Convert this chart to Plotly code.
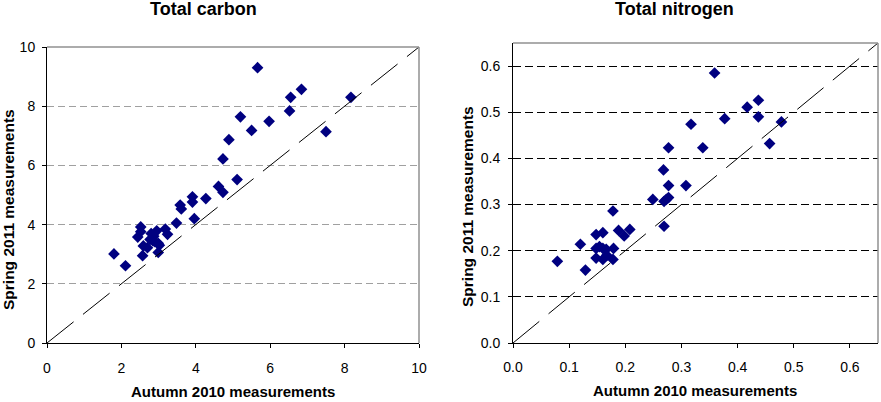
import plotly.graph_objects as go

# Total carbon (left)
carbon_autumn = [5.66, 6.84, 6.55, 8.17, 6.52, 5.20, 5.97, 5.50, 7.50, 4.89, 4.73, 5.11, 4.61, 4.73,
                 4.27, 3.91, 3.91, 3.58, 3.61, 3.48, 3.96, 3.18, 3.24, 2.52, 2.52, 2.44, 2.95, 2.80,
                 2.87, 2.77, 2.90, 2.99, 2.59, 2.70, 2.99, 2.57, 1.80, 2.11, 2.85, 3.02]
carbon_spring = [9.30, 8.57, 8.30, 8.30, 7.84, 7.64, 7.49, 7.18, 7.14, 6.87, 6.22, 5.52, 5.29, 5.09,
                 4.88, 4.94, 4.76, 4.66, 4.53, 4.05, 4.20, 3.85, 3.67, 3.92, 3.76, 3.58, 3.79, 3.70,
                 3.61, 3.50, 3.42, 3.37, 3.28, 3.22, 3.06, 2.95, 3.01, 2.61, 3.45, 3.30]

# Total nitrogen (right)
nitrogen_autumn = [0.359, 0.437, 0.417, 0.437, 0.377, 0.478, 0.317, 0.457, 0.277, 0.338, 0.268, 0.277,
                   0.308, 0.249, 0.269, 0.273, 0.277, 0.269, 0.178, 0.188, 0.208, 0.198, 0.148, 0.160,
                   0.120, 0.148, 0.154, 0.160, 0.166, 0.179, 0.148, 0.160, 0.167, 0.178, 0.079, 0.129]
nitrogen_spring = [0.585, 0.526, 0.511, 0.490, 0.486, 0.479, 0.474, 0.432, 0.423, 0.423, 0.375, 0.341,
                   0.341, 0.311, 0.307, 0.311, 0.315, 0.253, 0.286, 0.244, 0.246, 0.232, 0.235, 0.239,
                   0.214, 0.205, 0.209, 0.205, 0.203, 0.205, 0.184, 0.181, 0.190, 0.181, 0.177, 0.158]

carbon_ticks = [0, 2, 4, 6, 8, 10]
nitrogen_ticks = [0.0, 0.1, 0.2, 0.3, 0.4, 0.5, 0.6]
carbon_max = 10
nitrogen_max = 0.65

W, H = 881, 402
FONT = "Liberation Sans, Arial, sans-serif"
NAVY = "#000080"

fig = go.Figure()

fig.add_trace(go.Scatter(x=carbon_autumn, y=carbon_spring, mode="markers",
                         marker=dict(symbol="diamond", size=9, color=NAVY),
                         xaxis="x", yaxis="y", showlegend=False))
fig.add_trace(go.Scatter(x=nitrogen_autumn, y=nitrogen_spring, mode="markers",
                         marker=dict(symbol="diamond", size=9, color=NAVY),
                         xaxis="x2", yaxis="y2", showlegend=False))

# 1:1 lines
fig.add_trace(go.Scatter(x=[0, carbon_max], y=[0, carbon_max], mode="lines",
                         line=dict(color="black", width=1, dash="34px,12px"),
                         xaxis="x", yaxis="y", showlegend=False, hoverinfo="skip"))
fig.add_trace(go.Scatter(x=[0, nitrogen_max], y=[0, nitrogen_max], mode="lines",
                         line=dict(color="black", width=1, dash="34px,12px"),
                         xaxis="x2", yaxis="y2", showlegend=False, hoverinfo="skip"))

ax_common = dict(showline=True, linecolor="black", linewidth=1, ticks="outside", ticklen=4,
                 tickcolor="black", tickfont=dict(family=FONT, size=14, color="black"),
                 zeroline=False, automargin=False)

fig.update_layout(
    width=W, height=H, margin=dict(l=0, r=0, t=0, b=0, pad=0, autoexpand=False),
    paper_bgcolor="white", plot_bgcolor="white",
    xaxis=dict(domain=[47 / W, 419 / W], range=[0, carbon_max], tickvals=carbon_ticks,
               showgrid=False, anchor="y", ticklabelstandoff=8, **ax_common),
    yaxis=dict(domain=[1 - 343 / H, 1 - 47 / H], range=[0, carbon_max], tickvals=carbon_ticks,
               showgrid=True, gridcolor="#a0a0a0", griddash="7px,4px", gridwidth=1,
               anchor="x", ticklabelstandoff=4, **ax_common),
    xaxis2=dict(domain=[513 / W, 878 / W], range=[0, nitrogen_max], tickvals=nitrogen_ticks,
                tickformat=".1f", showgrid=False, anchor="y2", ticklabelstandoff=7, **ax_common),
    yaxis2=dict(domain=[1 - 343 / H, 1 - 43 / H], range=[0, nitrogen_max], tickvals=nitrogen_ticks,
                tickformat=".1f", showgrid=True, gridcolor="black", griddash="8px,4px", gridwidth=1,
                anchor="x2", ticklabelstandoff=5, **ax_common),
)

# gray top/right borders
for xr, yr in [("x domain", "y domain"), ("x2 domain", "y2 domain")]:
    fig.add_shape(type="line", xref=xr, yref=yr, x0=0, x1=1, y0=1, y1=1,
                  line=dict(color="#909090", width=1.5))
    fig.add_shape(type="line", xref=xr, yref=yr, x0=1, x1=1, y0=0, y1=1,
                  line=dict(color="#909090", width=1.5))

def ann(text, x, y, size, angle=0):
    fig.add_annotation(text=f"<b>{text}</b>", x=x / W, y=1 - y / H, xref="paper", yref="paper",
                       showarrow=False, textangle=angle, xanchor="center", yanchor="middle",
                       font=dict(family=FONT, size=size, color="black"))

ann("Total carbon", 203, 9, 18)
ann("Total nitrogen", 674, 9, 18)
ann("Autumn 2010 measurements", 233, 391, 15)
ann("Autumn 2010 measurements", 695, 390, 15)
ann("Spring 2011 measurements", 9, 210, 15.5, -90)
ann("Spring 2011 measurements", 467, 206, 15.5, -90)

fig.write_html("out.html")
